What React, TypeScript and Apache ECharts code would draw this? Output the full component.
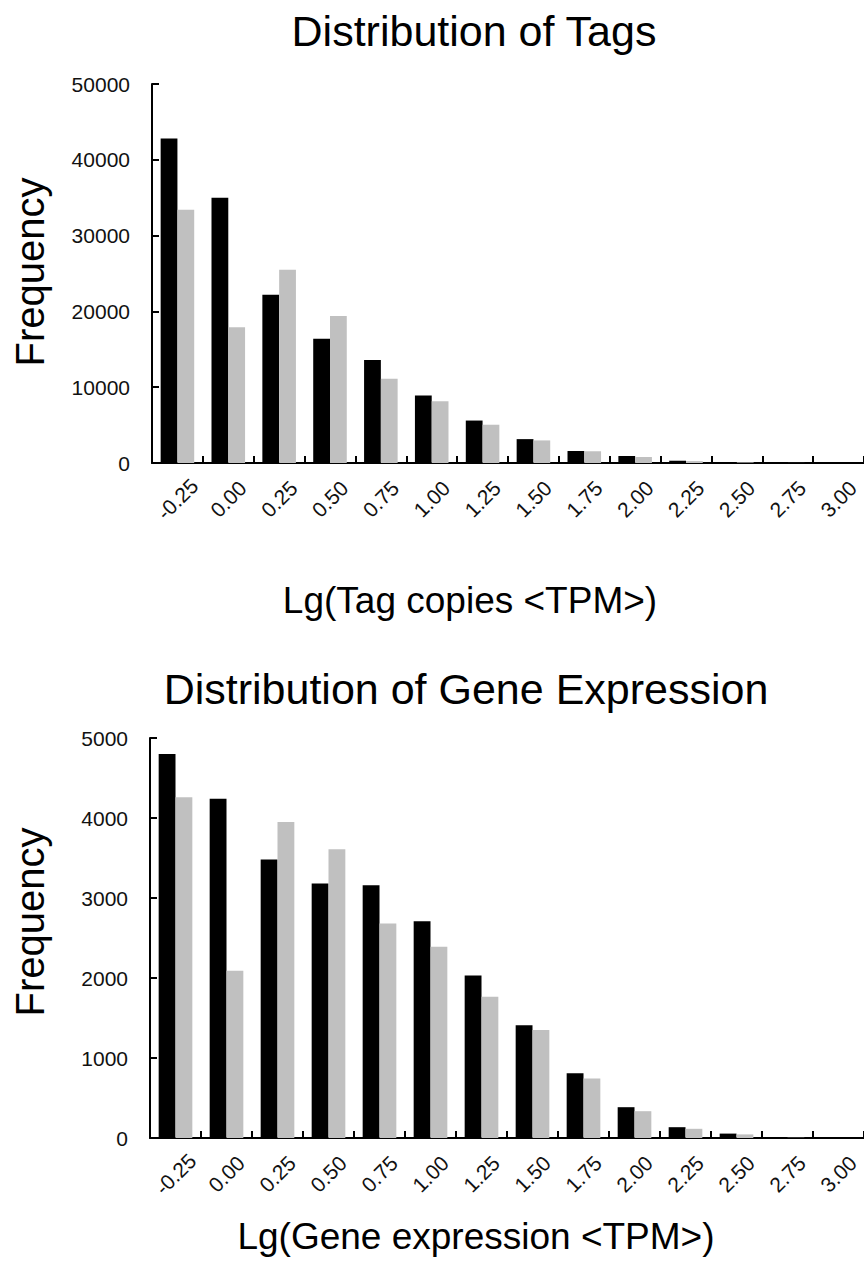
import React, { useEffect, useRef } from "react";
import * as echarts from "echarts";

const categories = ["-0.25", "0.00", "0.25", "0.50", "0.75", "1.00", "1.25", "1.50", "1.75", "2.00", "2.25", "2.50", "2.75", "3.00"];
const tagsBlack = [42800, 35000, 22200, 16400, 13600, 8900, 5600, 3150, 1580, 920, 300, 120, 20, 0];
const tagsGrey = [33400, 17900, 25500, 19400, 11100, 8150, 5050, 2980, 1550, 790, 250, 80, 10, 0];
const geneBlack = [4800, 4240, 3480, 3180, 3160, 2710, 2030, 1410, 810, 385, 135, 55, 5, 0];
const geneGrey = [4260, 2090, 3950, 3610, 2680, 2390, 1765, 1350, 745, 335, 115, 45, 3, 0];

const topTitle = "Distribution of Tags";
const bottomTitle = "Distribution of Gene Expression";
const topXName = "Lg(Tag copies <TPM>)";
const bottomXName = "Lg(Gene expression <TPM>)";
const yName = "Frequency";

const FONT = "'Liberation Sans', Arial, sans-serif";

export default function App() {
  const ref = useRef<HTMLDivElement>(null);
  useEffect(() => {
    document.body.style.margin = "0";
    const chart = echarts.init(ref.current!, null, { renderer: "svg" });
    const axisLine = { show: true, lineStyle: { color: "#000", width: 2 } };
    const axisTick = { show: true, inside: true, length: 7, lineStyle: { color: "#000", width: 2 } };
    const xAxisBase = (gridIndex: number) => ({
      type: "category" as const,
      gridIndex,
      data: categories,
      boundaryGap: true,
      axisLine,
      axisTick: { ...axisTick, alignWithLabel: false, interval: 0 },
      axisLabel: {
        interval: 0,
        rotate: 45,
        align: "center",
        verticalAlign: "middle",
        margin: 36,
        fontSize: 21,
        fontFamily: FONT,
        color: "#111",
      },
      splitLine: { show: false },
    });
    const yAxisBase = (gridIndex: number, max: number, interval: number) => ({
      type: "value" as const,
      gridIndex,
      min: 0,
      max,
      interval,
      axisLine,
      axisTick,
      splitLine: { show: false },
      axisLabel: {
        margin: 22,
        fontSize: 21,
        fontFamily: FONT,
        color: "#111",
        formatter: (v: number) => String(v),
      },
    });
    const barBase = { type: "bar" as const, barWidth: "33%", barGap: "0%" };
    const textStyle = (text: string, fontSize: number) => ({
      text,
      fontSize,
      fontFamily: FONT,
      fill: "#000",
      align: "center",
      verticalAlign: "middle",
    });
    chart.setOption({
      animation: false,
      backgroundColor: "#fff",
      grid: [
        { left: 152, top: 84, width: 712, height: 379 },
        { left: 150, top: 738, width: 714, height: 400 },
      ],
      xAxis: [xAxisBase(0), xAxisBase(1)],
      yAxis: [yAxisBase(0, 50000, 10000), yAxisBase(1, 5000, 1000)],
      series: [
        { ...barBase, name: "tags-black", xAxisIndex: 0, yAxisIndex: 0, data: tagsBlack, itemStyle: { color: "#000" } },
        { ...barBase, name: "tags-grey", xAxisIndex: 0, yAxisIndex: 0, data: tagsGrey, itemStyle: { color: "#c0c0c0" } },
        { ...barBase, name: "gene-black", xAxisIndex: 1, yAxisIndex: 1, data: geneBlack, itemStyle: { color: "#000" } },
        { ...barBase, name: "gene-grey", xAxisIndex: 1, yAxisIndex: 1, data: geneGrey, itemStyle: { color: "#c0c0c0" } },
      ],
      graphic: [
        { type: "text", x: 474, y: 31, style: textStyle(topTitle, 43) },
        { type: "text", x: 466, y: 689, style: textStyle(bottomTitle, 43) },
        { type: "text", x: 470, y: 600, style: textStyle(topXName, 37) },
        { type: "text", x: 476, y: 1236, style: textStyle(bottomXName, 37) },
        { type: "text", x: 30, y: 272, rotation: Math.PI / 2, style: textStyle(yName, 40) },
        { type: "text", x: 30, y: 922, rotation: Math.PI / 2, style: textStyle(yName, 40) },
      ],
    });
    return () => chart.dispose();
  }, []);
  return <div ref={ref} style={{ width: 864, height: 1262 }} />;
}
